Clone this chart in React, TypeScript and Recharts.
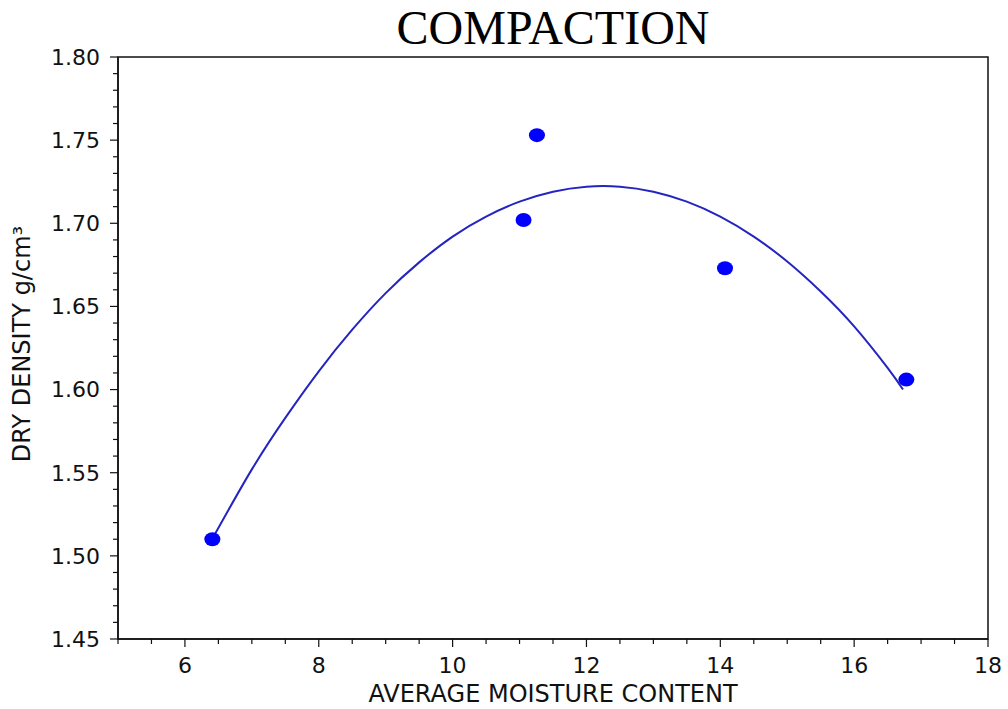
import React from 'react'
import { ComposedChart, Line, Scatter, XAxis, YAxis, ReferenceArea } from 'recharts'

// measured points (moisture %, dry density g/cm³)
const moisture = [6.41, 11.06, 11.26, 14.07, 16.78]
const density = [1.51, 1.702, 1.753, 1.673, 1.606]

// fitted curve
const fitMoisture = [
  6.42, 7.0, 7.5, 8.0, 8.5, 9.0, 9.5, 10.0, 10.5, 11.0, 11.5, 12.0, 12.5, 13.0,
  13.5, 14.0, 14.5, 15.0, 15.5, 16.0, 16.5, 16.73,
]
const fitDensity = [
  1.511, 1.552, 1.583, 1.611, 1.636, 1.658, 1.6765, 1.692, 1.704, 1.713, 1.719,
  1.722, 1.722, 1.719, 1.713, 1.704, 1.692, 1.677, 1.659, 1.638, 1.613, 1.6,
]

const xTicks = [6, 8, 10, 12, 14, 16, 18]
const xMinorTicks = [
  5, 5.5, 6, 6.5, 7, 7.5, 8, 8.5, 9, 9.5, 10, 10.5, 11, 11.5, 12, 12.5, 13,
  13.5, 14, 14.5, 15, 15.5, 16, 16.5, 17, 17.5, 18,
]
const yTicks = [1.45, 1.5, 1.55, 1.6, 1.65, 1.7, 1.75, 1.8]
const yMinorTicks = [
  1.45, 1.46, 1.47, 1.48, 1.49, 1.5, 1.51, 1.52, 1.53, 1.54, 1.55, 1.56, 1.57,
  1.58, 1.59, 1.6, 1.61, 1.62, 1.63, 1.64, 1.65, 1.66, 1.67, 1.68, 1.69, 1.7,
  1.71, 1.72, 1.73, 1.74, 1.75, 1.76, 1.77, 1.78, 1.79, 1.8,
]

const TITLE = 'COMPACTION'
const X_LABEL = 'AVERAGE MOISTURE CONTENT'
const Y_LABEL = 'DRY DENSITY g/cm³'

const FONT = '"DejaVu Sans", sans-serif'
const INK = '#111'
const POINT = '#0000ff'
const CURVE = '#2424c0'

const TICK_SIZE = 8
const MINOR_SIZE = 5
const TICK_MARGIN = 10

const points = moisture.map((x, i) => ({ x, y: density[i] }))
const curve = fitMoisture.map((x, i) => ({ x, y: fitDensity[i] }))

const isMajor = (list: number[], v: number) => list.some((t) => Math.abs(t - v) < 1e-9)

// bottom axis tick: major/minor tick line + label for majors only
function XTick(props: any) {
  const { x, y, payload } = props
  const major = isMajor(xTicks, payload.value)
  const y0 = y - TICK_SIZE - TICK_MARGIN
  return (
    <g>
      <line x1={x} x2={x} y1={y0} y2={y0 + (major ? TICK_SIZE : MINOR_SIZE)} stroke={INK} strokeWidth={1.2} />
      {major && (
        <text x={x} y={y} dy="0.71em" textAnchor="middle" fill={INK} fontSize={22} fontFamily={FONT}>
          {payload.value}
        </text>
      )}
    </g>
  )
}

function YTick(props: any) {
  const { x, y, payload } = props
  const major = isMajor(yTicks, payload.value)
  const x0 = x + TICK_SIZE + TICK_MARGIN
  return (
    <g>
      <line x1={x0 - (major ? TICK_SIZE : MINOR_SIZE)} x2={x0} y1={y} y2={y} stroke={INK} strokeWidth={1.2} />
      {major && (
        <text x={x} y={y} dy="0.355em" textAnchor="end" fill={INK} fontSize={22} fontFamily={FONT}>
          {payload.value.toFixed(2)}
        </text>
      )}
    </g>
  )
}

function Dot(props: any) {
  const { cx, cy } = props
  return <ellipse cx={cx} cy={cy} rx={8} ry={7} fill={POINT} />
}

export default function App() {
  return (
    <div
      style={{
        position: 'absolute',
        left: 0,
        top: 0,
        width: 1008,
        height: 709,
        background: '#fff',
      }}
    >
      <div
        style={{
          position: 'absolute',
          left: 118,
          width: 870,
          top: 2,
          textAlign: 'center',
          fontFamily: '"Liberation Serif", "Times New Roman", serif',
          fontSize: 48,
          lineHeight: '52px',
          color: '#000',
        }}
      >
        {TITLE}
      </div>
      <ComposedChart
        width={1008}
        height={709}
        margin={{ top: 57, right: 20, bottom: 0, left: 0 }}
        style={{ position: 'absolute', left: 0, top: 0 }}
      >
        <XAxis
          type="number"
          dataKey="x"
          domain={[5, 18]}
          ticks={xMinorTicks}
          interval={0}
          height={70}
          tickSize={TICK_SIZE}
          tickMargin={TICK_MARGIN}
          axisLine={{ stroke: INK, strokeWidth: 1.5 }}
          tickLine={false}
          tick={<XTick />}
          allowDataOverflow
          label={{
            value: X_LABEL,
            position: 'insideBottom',
            offset: 7,
            fill: INK,
            fontSize: 24,
            fontFamily: FONT,
          }}
        />
        <YAxis
          type="number"
          dataKey="y"
          domain={[1.45, 1.8]}
          ticks={yMinorTicks}
          interval={0}
          width={118}
          tickSize={TICK_SIZE}
          tickMargin={TICK_MARGIN}
          axisLine={{ stroke: INK, strokeWidth: 1.5 }}
          tickLine={false}
          tick={<YTick />}
          allowDataOverflow
          label={{
            content: () => (
              <text
                x={30}
                y={344}
                transform="rotate(-90 30 344)"
                textAnchor="middle"
                fill={INK}
                fontSize={24}
                fontFamily={FONT}
              >
                {Y_LABEL}
              </text>
            ),
          }}
        />
        <ReferenceArea
          x1={5}
          x2={18}
          y1={1.45}
          y2={1.8}
          fill="none"
          fillOpacity={0}
          stroke={INK}
          strokeWidth={1.5}
        />
        <Line
          data={curve}
          dataKey="y"
          type="natural"
          stroke={CURVE}
          strokeWidth={2}
          dot={false}
          activeDot={false}
          isAnimationActive={false}
        />
        <Scatter
          data={points}
          dataKey="y"
          fill={POINT}
          shape={Dot}
          isAnimationActive={false}
        />
      </ComposedChart>
    </div>
  )
}
